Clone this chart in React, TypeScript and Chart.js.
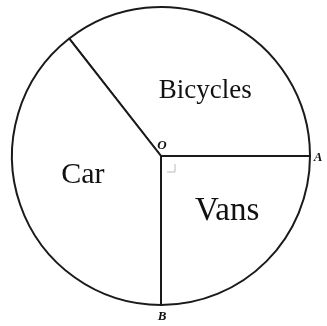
import React, { useEffect, useRef } from "react";
import { Chart, registerables } from "chart.js";

Chart.register(...registerables);

const categories = ["Bicycles", "Vans", "Car"];
const anglesDeg = [128, 90, 142];
const labelFontSizes = [27, 33, 30];
const labelAngleShift = [8, -5, 5];
const labelRadiusFrac = [0.53, 0.58, 0.54];
const startRotation = -38;

const labelPlugin = {
  id: "pieLabels",
  afterDatasetsDraw(chart: any) {
    const meta = chart.getDatasetMeta(0);
    const ctx = chart.ctx as CanvasRenderingContext2D;
    ctx.save();
    ctx.fillStyle = "#111";
    ctx.textAlign = "center";
    ctx.textBaseline = "middle";
    let cx = 0, cy = 0, R = 0;
    meta.data.forEach((arc: any, i: number) => {
      const p = arc.getProps(["x", "y", "startAngle", "endAngle", "outerRadius"], true);
      cx = p.x; cy = p.y; R = p.outerRadius;
      const mid = (p.startAngle + p.endAngle) / 2 + (labelAngleShift[i] * Math.PI) / 180;
      const r = p.outerRadius * labelRadiusFrac[i];
      ctx.font = `${labelFontSizes[i]}px "Liberation Serif", "Times New Roman", serif`;
      ctx.fillText(categories[i], p.x + Math.cos(mid) * r, p.y + Math.sin(mid) * r);
    });
    // point labels
    ctx.font = `italic bold 13px "Liberation Serif", serif`;
    ctx.fillText("O", cx + 1, cy - 10);
    ctx.fillText("A", cx + R + 8, cy + 2);
    ctx.fillText("B", cx + 1, cy + R + 12);
    // right-angle marker
    ctx.strokeStyle = "#bbb";
    ctx.lineWidth = 1;
    ctx.beginPath();
    ctx.moveTo(cx + 6, cy + 16);
    ctx.lineTo(cx + 14, cy + 16);
    ctx.lineTo(cx + 14, cy + 8);
    ctx.stroke();
    ctx.restore();
  },
};

export default function App() {
  const ref = useRef<HTMLCanvasElement>(null);
  useEffect(() => {
    document.body.style.margin = "0";
    const chart = new Chart(ref.current!, {
      type: "pie",
      data: {
        labels: categories,
        datasets: [
          {
            data: anglesDeg,
            backgroundColor: "#ffffff",
            borderColor: "#1a1a1a",
            borderWidth: 2,
            borderAlign: "center",
          } as any,
        ],
      },
      options: {
        responsive: false,
        animation: false,
        rotation: startRotation,
        layout: { padding: { left: 11, right: 16, top: 6, bottom: 20 } },
        plugins: { legend: { display: false }, tooltip: { enabled: false } },
      },
      plugins: [labelPlugin],
    });
    return () => chart.destroy();
  }, []);
  return (
    <div style={{ position: "absolute", left: 0, top: 0, width: 327, height: 326, background: "#fff" }}>
      <canvas ref={ref} width={327} height={326} />
    </div>
  );
}
